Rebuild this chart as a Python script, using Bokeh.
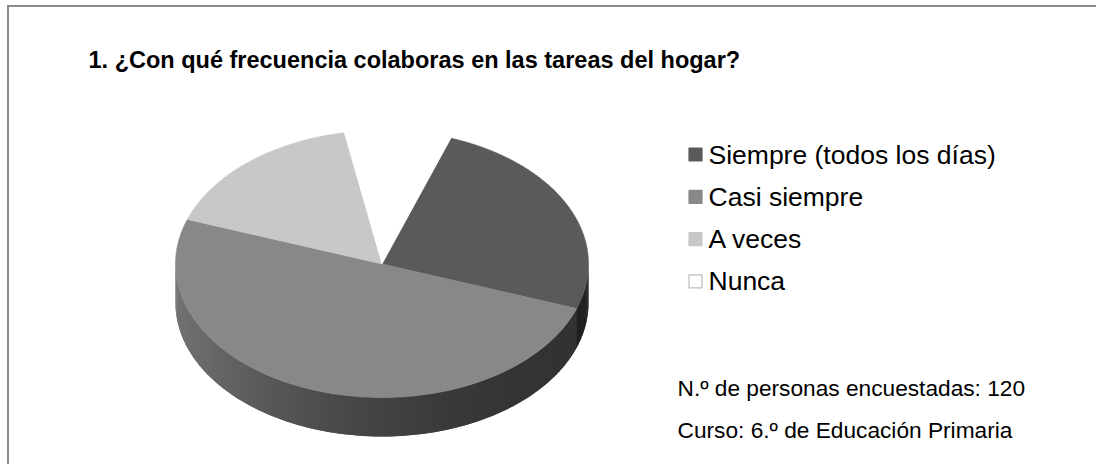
import math
from bokeh.plotting import figure
from bokeh.models import Range1d
from bokeh.core.properties import value
from bokeh.embed import file_html
from bokeh.resources import INLINE

# ---- data ----
title = "1. ¿Con qué frecuencia colaboras en las tareas del hogar?"
categories = ["Siempre (todos los días)", "Casi siempre", "A veces", "Nunca"]
counts = [30, 60, 20, 10]
colors = ["#5a5a5a", "#888888", "#c8c8c8", "#ffffff"]
notes = ["N.º de personas encuestadas: 120", "Curso: 6.º de Educación Primaria"]

# ---- style / geometry ----
W, H = 1096, 464
cx, cy, rx, ry, depth = 381.5, 263.5, 206.5, 133.5, 39
start_deg = 19.5
FONT = "Liberation Sans"

p = figure(frame_width=W, frame_height=H, output_backend="svg", toolbar_location=None,
           x_range=Range1d(0, W), y_range=Range1d(H, 0), min_border=0,
           x_axis_type=None, y_axis_type=None)
p.grid.visible = False
p.outline_line_color = None
p.background_fill_color = "white"
p.border_fill_color = "white"

# frame (only top and left visible)
p.segment(x0=[7.5, 6.5], y0=[H, 5.5], x1=[7.5, W], y1=[6.5, 5.5],
          line_color="#8c8c8c", line_width=2)


def pt(theta_deg, dy=0.0):
    t = math.radians(theta_deg)
    return cx + rx * math.sin(t), cy - ry * math.cos(t) + dy


def hex_to_rgb(h):
    h = h.lstrip("#")
    return tuple(int(h[i:i + 2], 16) for i in (0, 2, 4))


total = sum(counts)
bounds = []
a = start_deg
for c in counts:
    span = 360.0 * c / total
    bounds.append((a, a + span))
    a += span

# side (front half: 90..270 deg), drawn as overlapping shaded strips
side_xs, side_ys, side_cols = [], [], []
for (a0, a1), col in zip(bounds, colors):
    r, g, b = hex_to_rgb(col)
    for off in (0, 360, -360):
        lo = max(a0 + off, 90.0)
        hi = min(a1 + off, 270.0)
        if hi <= lo:
            continue
        n = max(2, int((hi - lo) / 0.75))
        step = (hi - lo) / n
        for i in range(n):
            t0 = lo + step * i
            t1 = min(lo + step * (i + 2), 270.0)
            tm = lo + step * (i + 0.5)
            u = (1 - math.sin(math.radians(tm))) / 2
            f = 0.375 + 0.465 * u * u
            shade = "#%02x%02x%02x" % (int(r * f), int(g * f), int(b * f))
            x0, y0 = pt(t0)
            x1, y1 = pt(t1)
            side_xs.append([x0, x1, x1, x0])
            side_ys.append([y0, y1, y1 + depth, y0 + depth])
            side_cols.append(shade)
p.patches(xs=side_xs, ys=side_ys, fill_color=side_cols, line_color=None)

# top faces
top_xs, top_ys = [], []
for (a0, a1) in bounds:
    n = max(4, int((a1 - a0) / 0.5))
    xs, ys = [cx], [cy]
    for i in range(n + 1):
        x, y = pt(a0 + (a1 - a0) * i / n)
        xs.append(x)
        ys.append(y)
    top_xs.append(xs)
    top_ys.append(ys)
p.patches(xs=top_xs, ys=top_ys, fill_color=colors, line_color=colors, line_width=0.6)

# title
p.text(x=[88], y=[59], text=[title], text_font=value(FONT), text_font_size="23.5px",
       text_font_style="bold", text_baseline="middle", text_color="#000000")

# legend
rows = [154 + 42.3 * i for i in range(len(categories))]
edge = ["#5a5a5a", "#888888", "#c8c8c8", "#bdbdbd"]
p.rect(x=[695] * len(categories), y=rows, width=13, height=13,
       fill_color=colors, line_color=edge, line_width=1.2)
p.text(x=[708] * len(categories), y=rows, text=categories, text_font=value(FONT),
       text_font_size="26.5px", text_baseline="middle", text_color="#000000")

# notes
p.text(x=[677, 677], y=[387, 429], text=notes, text_font=value(FONT),
       text_font_size="22.7px", text_baseline="middle", text_color="#000000")

open("out.html", "w").write(file_html(p, INLINE))
